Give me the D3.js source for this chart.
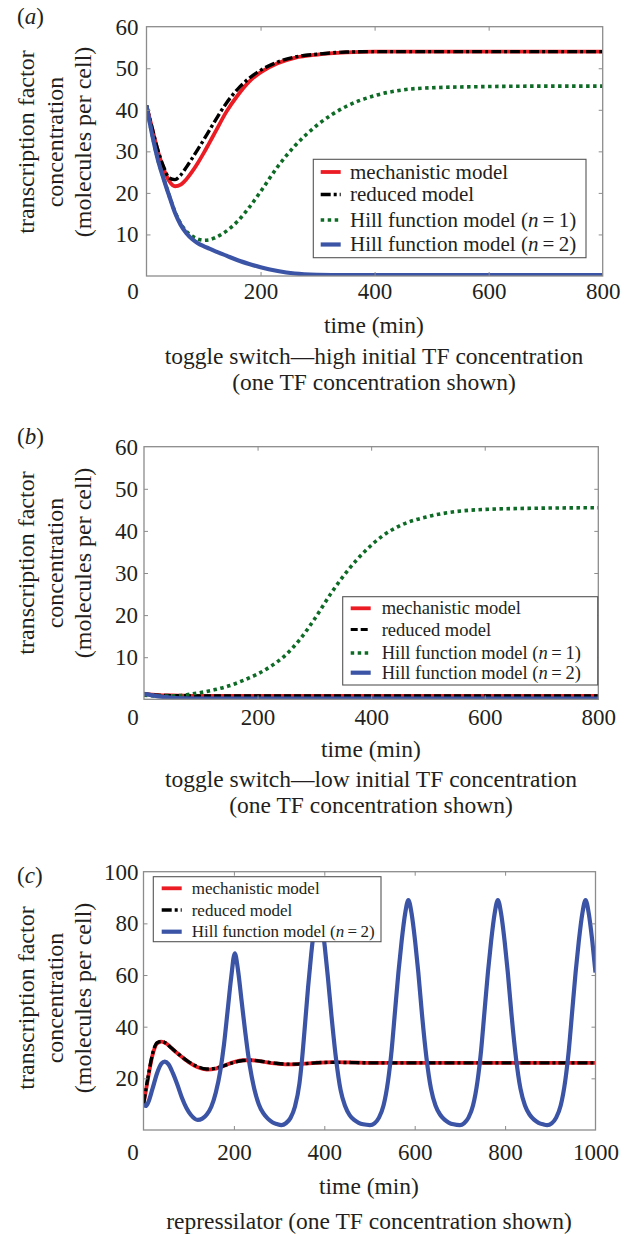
<!DOCTYPE html>
<html><head><meta charset="utf-8">
<script src="https://cdn.jsdelivr.net/npm/d3@7"></script>
<style>body{margin:0;background:#fff}</style>
</head><body>
<svg id="chart" width="634" height="1234" xmlns="http://www.w3.org/2000/svg"></svg>
<script>
// ---------------- DATA ----------------
// Panel (a): toggle switch, high initial TF
const timeA  = [0,10,20,30,40,50,60,70,80,90,100,110,120,140,160,180,200,230,260,300,350,400,450,500,600,700,800];
const mechA  = [41,35.5,30,25.8,22.8,21.6,22,23.3,25.1,27.2,29.5,32,34.5,39.5,43.5,46.8,49,51.2,52.5,53.3,53.8,54,54,54,54,54,54];
const redA   = [41,35.5,30.3,26.3,23.6,23.2,24.3,26.2,28.3,30.5,32.7,35,37.3,41.6,45,47.6,49.5,51.5,52.7,53.4,53.9,54,54,54,54,54,54];
const hill1A = [41,34,28,23.5,19.3,15.4,12.6,10.7,9.6,8.9,8.6,8.7,9.2,10.8,13.2,16.5,20.3,26.3,31.3,36.4,40.8,43.4,44.8,45.3,45.6,45.7,45.7];
const hill2A = [41,34,28,23.4,19.2,15.2,12.3,10.3,8.9,7.9,7.2,6.6,6.0,4.9,3.8,2.9,2.1,1.2,0.6,0.3,0.2,0.2,0.2,0.2,0.2,0.2,0.2];

// Panel (b): toggle switch, low initial TF
const timeB  = [0,25,50,75,100,125,150,175,200,225,250,275,300,330,360,390,420,450,500,550,600,700,800];
const mechB  = [1.3,1.0,0.9,0.85,0.8,0.8,0.8,0.8,0.8,0.8,0.8,0.8,0.8,0.8,0.8,0.8,0.8,0.8,0.8,0.8,0.8,0.8,0.8];
const redB   = [1.3,1.0,0.9,0.85,0.8,0.8,0.8,0.8,0.8,0.8,0.8,0.8,0.8,0.8,0.8,0.8,0.8,0.8,0.8,0.8,0.8,0.8,0.8];
const hill1B = [1.0,0.8,0.8,1.1,1.6,2.3,3.2,4.5,6.0,8.0,10.6,14.3,19.0,25.3,30.8,35.3,38.8,41.2,43.4,44.6,45.1,45.4,45.5];
const hill2B = [1.3,0.7,0.35,0.2,0.15,0.15,0.15,0.15,0.15,0.15,0.15,0.15,0.15,0.15,0.15,0.15,0.15,0.15,0.15,0.15,0.15,0.15,0.15];

// Panel (c): repressilator
const timeC  = [0,10,20,30,40,50,60,80,100,120,140,160,180,200,220,240,260,290,320,350,380,420,460,500,600,700,800,900,1000];
const mechC  = [10,20,29,33.5,34.2,33.5,32,29,26.3,24.3,23.4,23.8,25,26.3,27,27,26.6,25.8,25.4,25.6,26,26.3,26.2,26,26,26,26,26,26];
const redC   = [10,20.5,29.5,33.8,34.3,33.6,32,29,26.4,24.5,23.6,23.9,25,26.2,26.9,27,26.6,25.9,25.5,25.6,26,26.2,26.1,26,26,26,26,26,26];
const timeHillC = [0,5,10,20,30,40,47,55,65,75,85,95,105,120,130,140,150,160,170,178,186,194,202,209,217,225,235,245,255,265,275,285,295,305,
  315,325,335,345,350,356,364,371,379,386,393,401,408,416,426,436,446,456,466,476,486,501,
  511,521,531,541,549,556,564,571,579,586,593,601,608,616,626,636,646,656,666,676,686,700,
  709,719,729,739,747,754,762,769,777,784,791,799,806,814,824,834,844,854,864,874,884,893,
  903,913,923,933,941,948,956,963,971,978,985,993,1000];
const hill2C = [10,9.3,10.5,16,22,25.8,26.5,25.5,22,17.5,12.5,8.5,5.8,3.9,4.4,6,9,14.5,23,33,46,59,68.4,62,50,38,25,16,10,6.5,4.4,3.0,2.3,1.9,
  2.6,4.6,9,18,26,38,55,68,80,87,82,71,59,44,27.5,15.5,9.3,5.8,3.9,2.8,2.2,1.9,
  2.6,4.8,9.5,19,31,45,61,73,84,89,84,73,61,45,28,16,9.5,6,4,2.8,2.2,1.9,
  2.6,4.8,9.5,19,31,45,61,73,84,89,84,73,61,45,28,16,9.5,6,4,2.8,2.2,1.9,
  2.6,4.8,9.5,19,31,45,61,73,84,89,84,73,61];

const ticksX800  = [200,400,600,800];
const ticksX1000 = [200,400,600,800,1000];
const ticksY60   = [10,20,30,40,50,60];
const ticksY100  = [20,40,60,80,100];
const yLabelLines = ["transcription factor","concentration","(molecules per cell)"];
const legendNamesAB = ["mechanistic model","reduced model","Hill function model (n = 1)","Hill function model (n = 2)"];
const legendNamesC  = ["mechanistic model","reduced model","Hill function model (n = 2)"];

// ---------------- STYLE ----------------
const FONT = '"Liberation Serif","Times New Roman",Times,serif';
const TXT = "#231f20";
const COL = {red:"#ec1c24", black:"#000000", green:"#0e6b26", blue:"#3b54a5"};

const svg = d3.select("#chart");

function legendText(sel, name, fs) {
  const m = name.match(/^(.*)\(n = (\d)\)$/);
  if (!m) { sel.text(name); return; }
  sel.append("tspan").text(m[1] + "(");
  sel.append("tspan").attr("font-style","italic").text("n");
  sel.append("tspan").text("\u2009=\u2009" + m[2] + ")");
}

function drawPanel(cfg) {
  const x = d3.scaleLinear().domain([0, cfg.xMax]).range([cfg.left, cfg.right]);
  const y = d3.scaleLinear().domain([0, cfg.yMax]).range([cfg.bottom, cfg.top]);
  const g = svg.append("g");
  const clipId = "clip" + cfg.id;
  svg.append("clipPath").attr("id", clipId).append("rect")
    .attr("x", cfg.left).attr("y", cfg.top)
    .attr("width", cfg.right - cfg.left).attr("height", cfg.bottom - cfg.top);

  // series
  const lineGen = d3.line().curve(d3.curveMonotoneX);
  const lg = g.append("g").attr("clip-path", `url(#${clipId})`);
  cfg.series.forEach(s => {
    const pts = s.t.map((t, i) => [x(t), y(s.v[i])]);
    lg.append("path").attr("d", lineGen(pts)).attr("fill","none")
      .attr("stroke", s.color).attr("stroke-width", s.w)
      .attr("stroke-dasharray", s.dash || null)
      .attr("stroke-linejoin","round");
  });

  // box
  g.append("rect").attr("x", cfg.left).attr("y", cfg.top)
    .attr("width", cfg.right - cfg.left).attr("height", cfg.bottom - cfg.top)
    .attr("fill","none").attr("stroke","#8c8c8c").attr("stroke-width",1.3);

  const styleAxis = (ag) => {
    ag.select(".domain").remove();
    ag.selectAll(".tick line").attr("stroke","#8c8c8c").attr("stroke-width",1);
    ag.selectAll("text").attr("font-family", FONT).attr("font-size", cfg.tickFs).attr("fill", TXT);
  };
  const xT = cfg.xTicks.filter(v => v < cfg.xMax);
  const yT = cfg.yTicks.filter(v => v < cfg.yMax);
  g.append("g").attr("transform",`translate(0,${cfg.bottom})`)
    .call(d3.axisBottom(x).tickValues(cfg.xTicks).tickSizeInner(-4).tickSizeOuter(0).tickPadding(cfg.xPad).tickFormat(d3.format("d")))
    .call(styleAxis)
    .call(a => a.selectAll(".tick").filter(d => d >= cfg.xMax).select("line").remove());
  g.append("g").attr("transform",`translate(0,${cfg.top})`)
    .call(d3.axisTop(x).tickValues(xT).tickSizeInner(-4).tickSizeOuter(0).tickFormat(""))
    .call(styleAxis);
  g.append("g").attr("transform",`translate(${cfg.left},0)`)
    .call(d3.axisLeft(y).tickValues(cfg.yTicks).tickSizeInner(-4).tickSizeOuter(0).tickPadding(cfg.yPad).tickFormat(d3.format("d")))
    .call(styleAxis)
    .call(a => a.selectAll(".tick").filter(d => d >= cfg.yMax).select("line").remove());
  g.append("g").attr("transform",`translate(${cfg.right},0)`)
    .call(d3.axisRight(y).tickValues(yT).tickSizeInner(-4).tickSizeOuter(0).tickFormat(""))
    .call(styleAxis);

  // shared zero label
  g.append("text").attr("x", 133).attr("y", cfg.bottom + cfg.xPad).attr("dy","0.71em")
    .attr("text-anchor","middle").attr("font-family", FONT).attr("font-size", cfg.tickFs).attr("fill", TXT).text("0");

  // panel label
  const pl = g.append("text").attr("x", 17).attr("y", cfg.labelY)
    .attr("font-family", FONT).attr("font-size", 23).attr("fill", TXT);
  pl.append("tspan").text("(");
  pl.append("tspan").attr("font-style","italic").text(cfg.id);
  pl.append("tspan").text(")");

  // y label
  const yl = g.append("g").attr("transform", `translate(0,${cfg.yLabelC})`);
  yLabelLines.forEach((s, i) => {
    yl.append("text").attr("transform", `translate(${[26,55,83][i]},0) rotate(-90)`)
      .attr("text-anchor","middle").attr("dy","0.35em")
      .attr("font-family", FONT).attr("font-size", 24).attr("fill", TXT).text(s);
  });

  // x label & titles
  g.append("text").attr("x", cfg.titleX).attr("y", cfg.xLabelY).attr("dy","0.35em")
    .attr("text-anchor","middle").attr("font-family", FONT).attr("font-size", 23.5).attr("fill", TXT).text("time (min)");
  cfg.titles.forEach((s, i) => {
    g.append("text").attr("x", cfg.titleX).attr("y", cfg.titleY + i * 26).attr("dy","0.35em")
      .attr("text-anchor","middle").attr("font-family", FONT).attr("font-size", 23.5).attr("fill", TXT).text(s);
  });

  // legend
  const L = cfg.legend;
  const lgd = g.append("g");
  lgd.append("rect").attr("x", L.x0).attr("y", L.y0).attr("width", L.x1 - L.x0).attr("height", L.y1 - L.y0)
    .attr("fill","#fff").attr("stroke","#555").attr("stroke-width",1.1);
  L.names.forEach((name, i) => {
    const s = cfg.series[L.order[i]];
    const yy = L.rows[i];
    lgd.append("line").attr("x1", L.sx0).attr("x2", L.sx1).attr("y1", yy).attr("y2", yy)
      .attr("stroke", s.color).attr("stroke-width", s.w).attr("stroke-dasharray", s.legDash || s.dash || null);
    const t = lgd.append("text").attr("x", L.tx).attr("y", yy).attr("dy","0.33em")
      .attr("font-family", FONT).attr("font-size", L.fs).attr("fill", TXT);
    legendText(t, name, L.fs);
  });
}

drawPanel({
  id:"a", xMax:800, yMax:60, left:146.5, right:602.7, top:26.7, bottom:276,
  xTicks:ticksX800, yTicks:ticksY60, tickFs:23, xPad:7, yPad:8,
  labelY:24, yLabelC:142, titleX:374, xLabelY:325, titleY:356,
  titles:["toggle switch\u2014high initial TF concentration","(one TF concentration shown)"],
  series:[
    {t:timeA, v:mechA,  color:COL.red,   w:3.8},
    {t:timeA, v:redA,   color:COL.black, w:3.4, dash:"10,3,3,3"},
    {t:timeA, v:hill1A, color:COL.green, w:3.6, dash:"3.5,3.5"},
    {t:timeA, v:hill2A, color:COL.blue,  w:4.2}
  ],
  legend:{x0:313.3, x1:586, y0:159.3, y1:257.7, rows:[172,194.5,220,244.5], sx0:320.7, sx1:340.7, tx:350, fs:21,
          names:legendNamesAB, order:[0,1,2,3]}
});

drawPanel({
  id:"b", xMax:800, yMax:60, left:144, right:598.3, top:446.7, bottom:699.3,
  xTicks:ticksX800, yTicks:ticksY60, tickFs:23, xPad:9, yPad:6,
  labelY:444, yLabelC:563, titleX:371, xLabelY:749, titleY:779,
  titles:["toggle switch\u2014low initial TF concentration","(one TF concentration shown)"],
  series:[
    {t:timeB, v:mechB,  color:COL.red,   w:3.8},
    {t:timeB, v:redB,   color:COL.black, w:3.2, dash:"7,3"},
    {t:timeB, v:hill1B, color:COL.green, w:3.6, dash:"3.5,3.5"},
    {t:timeB, v:hill2B, color:COL.blue,  w:4.2}
  ],
  legend:{x0:342.7, x1:597.7, y0:596.7, y1:685, rows:[608.3,629.5,653,672.7], sx0:350.7, sx1:370.7, tx:381.7, fs:18.5,
          names:legendNamesAB, order:[0,1,2,3]}
});

drawPanel({
  id:"c", xMax:1000, yMax:100, left:143.5, right:595.5, top:871.7, bottom:1130,
  xTicks:ticksX1000, yTicks:ticksY100, tickFs:23, xPad:14, yPad:5,
  labelY:883, yLabelC:998, titleX:369, xLabelY:1186, titleY:1221,
  titles:["repressilator (one TF concentration shown)"],
  series:[
    {t:timeC, v:mechC, color:COL.red,   w:3.8},
    {t:timeC, v:redC,  color:COL.black, w:3.4, dash:"10,3,3,3"},
    {t:timeHillC, v:hill2C, color:COL.blue, w:4.2}
  ],
  legend:{x0:153.3, x1:381, y0:876.7, y1:941.7, rows:[888.3,910,931.7], sx0:161.7, sx1:181.7, tx:191.7, fs:17,
          names:legendNamesC, order:[0,1,2]}
});
</script>
</body></html>
